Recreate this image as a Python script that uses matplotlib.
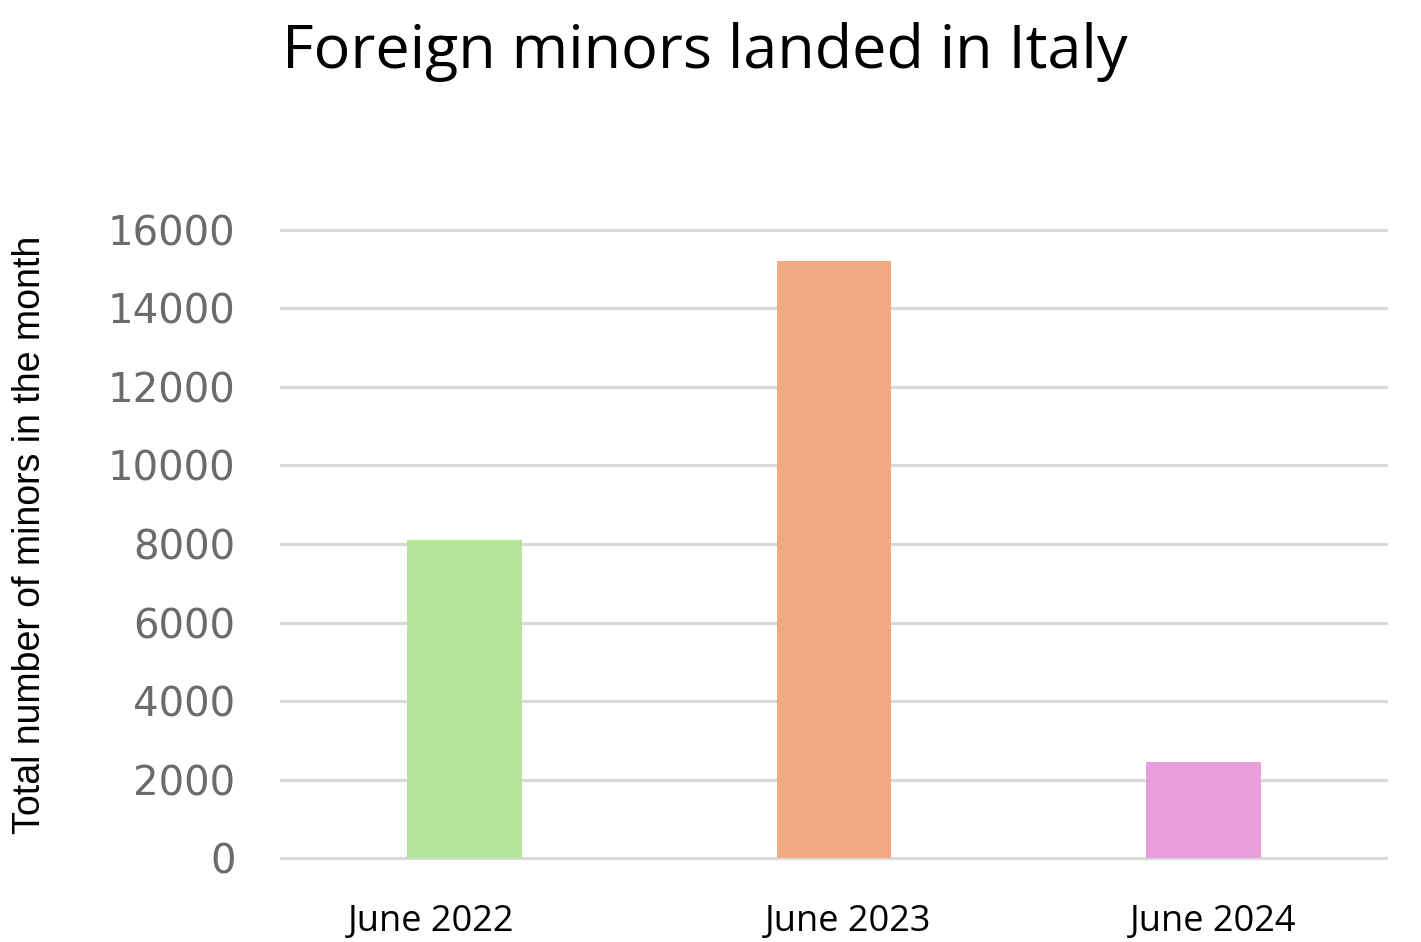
import matplotlib.pyplot as plt
import matplotlib.transforms as mtransforms
import numpy as np

months = ["June 2022", "June 2023", "June 2024"]
minors = [8100, 15200, 2450]
bar_colors = ["#B3E59A", "#F2A982", "#E79EDB"]
y_ticks = [0, 2000, 4000, 6000, 8000, 10000, 12000, 14000, 16000]

fig = plt.figure(figsize=(14.21, 9.42), dpi=100)
ax = fig.add_axes([0.197, 0.0828, 0.7798, 0.6794])

x = np.arange(len(months))
ax.bar(x, minors, width=0.31, color=bar_colors, zorder=3)

ax.set_xlim(-0.5, 2.5)
ax.set_ylim(-150, 16150)
ax.set_yticks(y_ticks)
ax.set_yticklabels([str(v) for v in y_ticks], fontsize=29, color="#6b6b6b",
                   family="DejaVu Sans")
ax.yaxis.grid(True, color="#d9d9d9", linewidth=2.3, zorder=0)
ax.tick_params(axis="y", length=0, pad=32)

ax.set_xticks(x)
ax.set_xticklabels(months, fontsize=26, family="Open Sans", color="black")
ax.tick_params(axis="x", length=0, pad=29)
# labels in the source are not quite centred on the bars
for lab, dx in zip(ax.get_xticklabels(), [-33, 14, 10]):
    lab.set_transform(lab.get_transform() +
                      mtransforms.ScaledTranslation(dx / 100, 0, fig.dpi_scale_trans))

for s in ax.spines.values():
    s.set_visible(False)

ax.set_ylabel("Total number of minors in the month", fontsize=27,
              family="Liberation Sans", color="black")
ax.yaxis.set_label_coords(-0.2256, 0.514)
ax.yaxis.label.set_va("center")

fig.text(0.496, 0.945, "Foreign minors landed in Italy", fontsize=44,
         family="Open Sans", ha="center", va="center")

fig.savefig("out.png", dpi=100)
